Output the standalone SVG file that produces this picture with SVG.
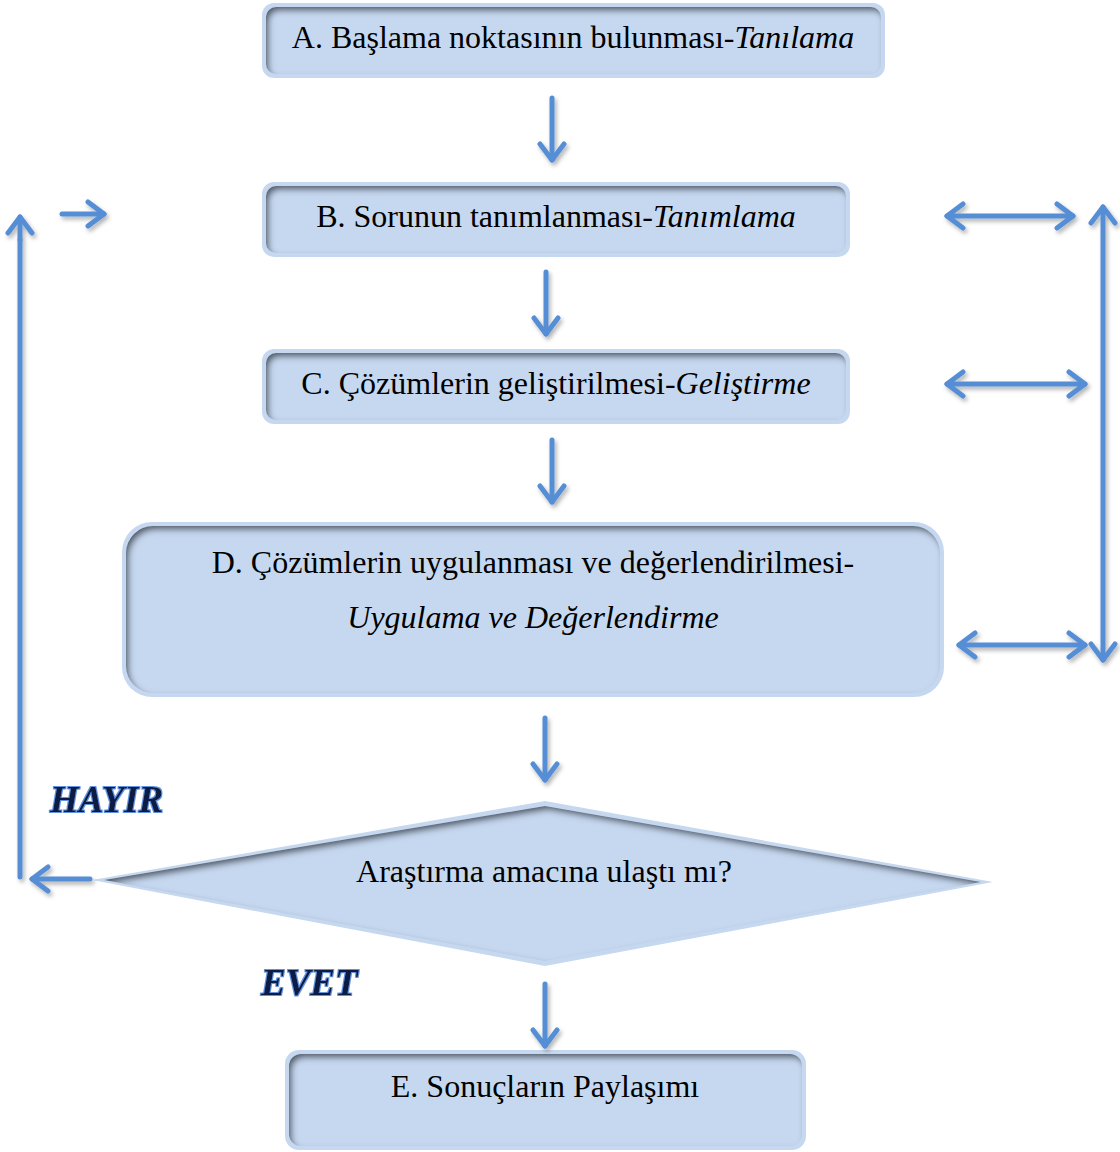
<svg xmlns="http://www.w3.org/2000/svg" width="1120" height="1152" viewBox="0 0 1120 1152">
<defs>
<style>
.box{fill:#c6d8f0}
.inner{fill:#c6d8f0;filter:url(#inset)}
.t{font-family:"Liberation Serif","Times New Roman",serif;font-size:32px;fill:#000;text-anchor:middle}
.it{font-style:italic}
.lab{font-family:"Liberation Serif","Times New Roman",serif;font-size:37px;font-weight:bold;font-style:italic;fill:#0c1c44;filter:url(#glow)}
.c{fill:none;stroke:#558ed5;stroke-width:5;stroke-linecap:round}
.ah{marker-end:url(#head)}
.dh{marker-start:url(#head);marker-end:url(#head)}
</style>
<marker id="head" viewBox="0 0 26 30" refX="21" refY="15" markerWidth="26" markerHeight="30" markerUnits="userSpaceOnUse" orient="auto-start-reverse">
<path d="M5,3 L21,15 L5,27" fill="none" stroke="#558ed5" stroke-width="5" stroke-linecap="round" stroke-linejoin="round"/>
</marker>
<filter id="inset" x="-5%" y="-20%" width="110%" height="140%">
<feComponentTransfer in="SourceAlpha"><feFuncA type="table" tableValues="1 0"/></feComponentTransfer>
<feGaussianBlur stdDeviation="3"/>
<feOffset dx="3" dy="4" result="ob"/>
<feFlood flood-color="#2a3340" flood-opacity="0.9"/>
<feComposite in2="ob" operator="in"/>
<feComposite in2="SourceAlpha" operator="in" result="sh"/>
<feMerge><feMergeNode in="SourceGraphic"/><feMergeNode in="sh"/></feMerge>
</filter>
<filter id="ds" x="-20%" y="-20%" width="140%" height="140%">
<feDropShadow dx="2" dy="3" stdDeviation="2" flood-color="#000" flood-opacity="0.3"/>
</filter>
<filter id="glow" x="-10%" y="-20%" width="120%" height="140%">
<feMorphology in="SourceAlpha" operator="dilate" radius="1" result="d"/>
<feFlood flood-color="#3b78d8" flood-opacity="0.8"/>
<feComposite in2="d" operator="in" result="g"/>
<feMerge><feMergeNode in="g"/><feMergeNode in="SourceGraphic"/></feMerge>
</filter>
</defs>

<g id="nodeA">
<rect class="box" x="262" y="3" width="623" height="75" rx="12"/>
<rect class="inner" x="266" y="7" width="615" height="67" rx="10"/>
<text class="t" x="573" y="48">A. Başlama noktasının bulunması-<tspan class="it">Tanılama</tspan></text>
</g>
<g id="nodeB">
<rect class="box" x="262" y="182" width="588" height="75" rx="12"/>
<rect class="inner" x="266" y="186" width="580" height="67" rx="10"/>
<text class="t" x="556" y="227">B. Sorunun tanımlanması-<tspan class="it">Tanımlama</tspan></text>
</g>
<g id="nodeC">
<rect class="box" x="262" y="349" width="588" height="75" rx="12"/>
<rect class="inner" x="266" y="353" width="580" height="67" rx="10"/>
<text class="t" x="556" y="394">C. Çözümlerin geliştirilmesi-<tspan class="it">Geliştirme</tspan></text>
</g>
<g id="nodeD">
<rect class="box" x="122" y="522" width="822" height="175" rx="30"/>
<rect class="inner" x="126" y="526" width="814" height="167" rx="27"/>
<text class="t" x="533" y="573">D. Çözümlerin uygulanması ve değerlendirilmesi-</text>
<text class="t it" x="533" y="628">Uygulama ve Değerlendirme</text>
</g>
<g id="decision">
<polygon class="box" points="92,880 545,801 993,882 545,966"/>
<polygon class="inner" points="104,880 545,806 981,882 545,961"/>
<text class="t" x="544" y="882">Araştırma amacına ulaştı mı?</text>
</g>
<g id="nodeE">
<rect class="box" x="285" y="1050" width="521" height="100" rx="14"/>
<rect class="inner" x="289" y="1054" width="513" height="92" rx="12"/>
<text class="t" x="545" y="1097">E. Sonuçların Paylaşımı</text>
</g>

<g id="labels">
<text class="lab" x="50" y="812">HAYIR</text>
<text class="lab" x="261" y="995">EVET</text>
</g>

<g id="connectors" filter="url(#ds)">
<line class="c ah" x1="552" y1="98" x2="552" y2="160"/>
<line class="c ah" x1="546" y1="272" x2="546" y2="334"/>
<line class="c ah" x1="552" y1="440" x2="552" y2="502"/>
<line class="c ah" x1="545" y1="718" x2="545" y2="780"/>
<line class="c ah" x1="545" y1="984" x2="545" y2="1046"/>
<line class="c ah" x1="62" y1="214" x2="104" y2="214"/>
<line class="c" x1="20" y1="877" x2="20" y2="240"/>
<line class="c ah" x1="20" y1="240" x2="20" y2="217"/>
<line class="c ah" x1="90" y1="879" x2="32" y2="879"/>
<line class="c dh" x1="947" y1="216" x2="1073" y2="216"/>
<line class="c dh" x1="947" y1="384" x2="1085" y2="384"/>
<line class="c dh" x1="959" y1="645" x2="1085" y2="645"/>
<line class="c dh" x1="1103" y1="207" x2="1103" y2="660"/>
</g>
</svg>
